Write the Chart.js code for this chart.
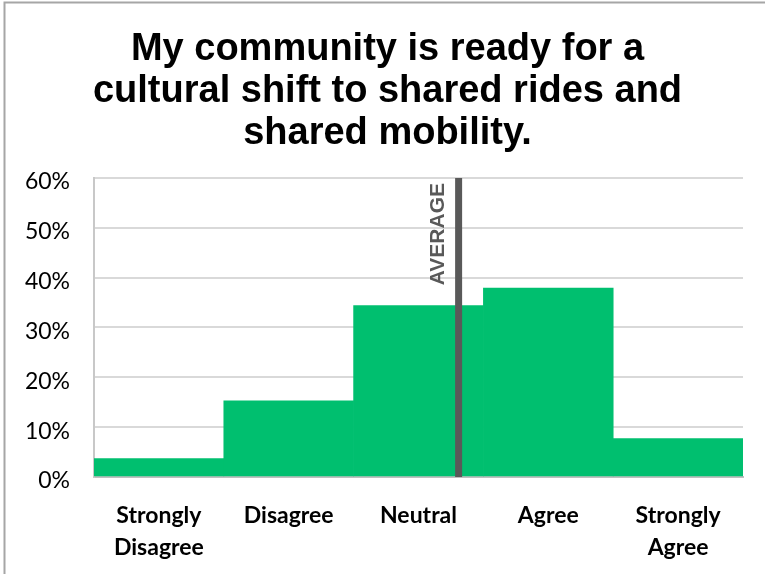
<!DOCTYPE html>
<html>
<head>
<meta charset="utf-8">
<script src="https://cdn.jsdelivr.net/npm/chart.js@4"></script>
<style>
  html, body { margin: 0; padding: 0; background: #ffffff; }
  #wrap { width: 765px; height: 574px; position: relative; }
</style>
</head>
<body>
<div id="wrap"><canvas id="c" width="765" height="574"></canvas></div>
<script>
// ---- Data ----
const titleLines = ['My community is ready for a', 'cultural shift to shared rides and', 'shared mobility.'];
const categories = [['Strongly', 'Disagree'], 'Disagree', 'Neutral', 'Agree', ['Strongly', 'Agree']];
const responseShares = [3.7, 15.3, 34.4, 37.9, 7.7];   // percent of respondents
const scoreValues = [1, 2, 3, 4, 5];                   // Likert score per category
const yTicks = [0, 10, 20, 30, 40, 50, 60];
const averageLabel = 'AVERAGE';

// Weighted average Likert score, mapped to the category index scale
const totalShare = responseShares.reduce((a, b) => a + b, 0);
const averageScore = responseShares.reduce((s, v, i) => s + v * scoreValues[i], 0) / totalShare;
const averageIndex = averageScore - scoreValues[0];

const averagePlugin = {
  id: 'averageLine',
  afterDatasetsDraw(chart) {
    const { ctx, chartArea, scales } = chart;
    const x = scales.x.getPixelForValue(averageIndex);
    ctx.save();
    ctx.strokeStyle = '#595959';
    ctx.lineWidth = 7;
    ctx.beginPath();
    ctx.moveTo(x, chartArea.top);
    ctx.lineTo(x, chartArea.bottom);
    ctx.stroke();
    ctx.translate(x - 15, chartArea.top + 5);
    ctx.rotate(-Math.PI / 2);
    ctx.fillStyle = '#595959';
    ctx.font = 'bold 21px "Liberation Sans", Arial, sans-serif';
    ctx.textAlign = 'right';
    ctx.textBaseline = 'alphabetic';
    ctx.fillText(averageLabel, 0, 0);
    ctx.restore();
  }
};

const framePlugin = {
  id: 'frame',
  beforeDraw(chart) {
    const { ctx, width, height } = chart;
    ctx.save();
    ctx.fillStyle = '#ffffff';
    ctx.fillRect(0, 0, width, height);
    ctx.strokeStyle = '#a6a6a6';
    ctx.lineWidth = 2;
    ctx.beginPath();
    ctx.moveTo(4.5, height);
    ctx.lineTo(4.5, 2.5);
    ctx.lineTo(width, 2.5);
    ctx.stroke();
    ctx.restore();
  }
};

new Chart(document.getElementById('c'), {
  type: 'bar',
  data: {
    labels: categories,
    datasets: [{
      data: responseShares,
      backgroundColor: '#00BF6F',
      borderWidth: 0,
      barPercentage: 1.0,
      categoryPercentage: 1.0
    }]
  },
  options: {
    responsive: false,
    animation: false,
    devicePixelRatio: 1,
    layout: { padding: { top: 0, left: 10, right: 0, bottom: 0 } },
    plugins: {
      legend: { display: false },
      tooltip: { enabled: false },
      title: {
        display: true,
        text: titleLines,
        color: '#000000',
        font: { family: '"Liberation Sans", Arial, sans-serif', size: 38, weight: 'bold', lineHeight: 1.105 },
        padding: { top: 29, bottom: 23 }
      }
    },
    scales: {
      x: {
        grid: { display: false, drawTicks: false },
        border: { display: true, color: '#bfbfbf', width: 2 },
        ticks: {
          color: '#000000',
          font: { family: 'Lato, "Open Sans", sans-serif', size: 23, weight: 'bold', lineHeight: 1.4 },
          padding: 22,
          maxRotation: 0,
          autoSkip: false
        },
        afterFit(scale) { scale.height = 97; }
      },
      y: {
        min: yTicks[0],
        max: yTicks[yTicks.length - 1],
        afterBuildTicks(scale) { scale.ticks = yTicks.map(v => ({ value: v })); },
        grid: { color: '#d9d9d9', lineWidth: 2, drawTicks: false },
        border: { display: true, color: '#c8c8c8', width: 2 },
        ticks: {
          color: '#000000',
          font: { family: 'Lato, "Open Sans", sans-serif', size: 23 },
          padding: 24,
          labelOffset: 4,
          callback: v => v + '%'
        },
        afterFit(scale) { scale.width = 84; }
      },
      yRight: {
        position: 'right',
        display: true,
        grid: { display: false, drawTicks: false },
        border: { display: false },
        ticks: { display: false },
        afterFit(scale) { scale.width = 22; }
      }
    }
  },
  plugins: [framePlugin, averagePlugin]
});
</script>
</body>
</html>
